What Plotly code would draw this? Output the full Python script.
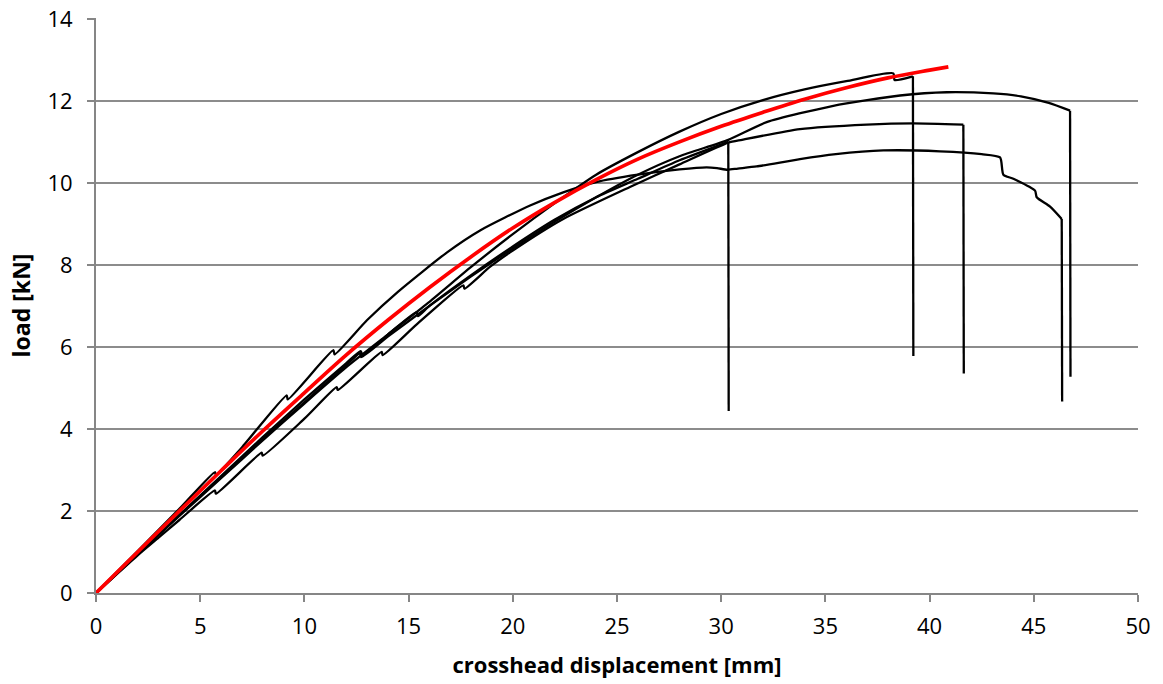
import plotly.graph_objects as go

# load-displacement curves (mm, kN)
red_x = [0, 2, 4, 6, 8, 10, 12, 14, 16, 18, 20, 22, 24, 26, 28, 30, 32, 34, 36, 38, 40, 40.9]
red_y = [0, 1.0, 2.0, 2.98, 3.95, 4.88, 5.8, 6.65, 7.45, 8.2, 8.9, 9.52, 10.08, 10.58, 11.0, 11.38,
         11.72, 12.04, 12.32, 12.56, 12.75, 12.83]

a_x = [0, 2, 4, 6, 8, 10, 12, 12.7, 12.8, 14, 16, 18, 20, 22, 24, 26, 28, 30, 32, 34, 36,
       38.26, 38.32, 39.14, 39.2, 39.22]
a_y = [0, 0.95, 1.9, 2.85, 3.8, 4.72, 5.6, 5.9, 5.8, 6.3, 7.1, 7.95, 8.75, 9.5, 10.2, 10.75,
       11.25, 11.68, 12.02, 12.28, 12.48, 12.67, 12.51, 12.59, 12.6, 5.78]

b_x = [0, 2, 4, 6, 8, 10, 12, 12.67, 12.72, 14, 16, 18, 20, 22, 24, 26, 28, 30.34, 32.18,
       35.38, 38.58, 40.82, 43.06, 44.38, 45.72, 46.74, 46.76]
b_y = [0, 0.95, 1.9, 2.82, 3.75, 4.65, 5.55, 5.85, 5.75, 6.25, 7.0, 7.72, 8.4, 9.05, 9.65,
       10.2, 10.65, 11.05, 11.48, 11.88, 12.13, 12.21, 12.18, 12.11, 11.95, 11.76, 5.27]

c_x = [0, 2, 3, 4, 5.71, 5.75, 7.95, 8.0, 10, 11.55, 11.6, 13.71, 13.75, 15.39, 17.63, 17.68,
       18.9, 20, 22.42, 25.62, 28, 30.34, 31, 33.78, 36.98, 39.22, 41.62, 41.64]
c_y = [0, 0.92, 1.35, 1.78, 2.5, 2.42, 3.42, 3.35, 4.25, 5.02, 4.95, 5.88, 5.8, 6.55, 7.5, 7.42,
       7.95, 8.35, 9.12, 9.9, 10.45, 10.98, 11.05, 11.31, 11.42, 11.45, 11.42, 5.35]

d_x = [0, 2, 4, 6, 8, 10, 12, 14, 15.39, 15.45, 16, 18, 20, 22, 24, 26, 28, 30.34, 30.36]
d_y = [0, 0.95, 1.88, 2.8, 3.72, 4.62, 5.5, 6.3, 6.85, 6.75, 7.0, 7.75, 8.45, 9.1, 9.65,
       10.1, 10.55, 11.0, 4.44]

e_x = [0, 2, 4, 5.71, 5.75, 7, 9.15, 9.2, 11.39, 11.45, 13, 14.5, 16.83, 18.43, 20.83, 22.42,
       24, 26, 28, 29.3, 29.8, 30.3, 30.8, 31.7, 33.78, 35.5, 37.78, 40.5, 42.5, 43.38, 43.54,
       44.02, 45.06, 45.14, 45.78, 46.34, 46.36]
e_y = [0, 1.02, 2.05, 2.95, 2.88, 3.55, 4.82, 4.72, 5.92, 5.82, 6.65, 7.35, 8.3, 8.84, 9.45,
       9.77, 10.02, 10.2, 10.33, 10.38, 10.36, 10.32, 10.35, 10.4, 10.58, 10.7, 10.79, 10.77,
       10.7, 10.62, 10.2, 10.1, 9.81, 9.65, 9.42, 9.12, 4.67]

x_ticks = [0, 5, 10, 15, 20, 25, 30, 35, 40, 45, 50]
y_ticks = [0, 2, 4, 6, 8, 10, 12, 14]

fig = go.Figure()
for xs, ys in [(a_x, a_y), (b_x, b_y), (c_x, c_y), (d_x, d_y), (e_x, e_y)]:
    # smooth test curve, then the straight drop at failure
    fig.add_trace(go.Scatter(x=xs[:-1], y=ys[:-1], mode='lines', showlegend=False,
                             line={'color': 'black', 'width': 2.3, 'shape': 'spline', 'smoothing': 0.6}))
    fig.add_trace(go.Scatter(x=xs[-2:], y=ys[-2:], mode='lines', showlegend=False,
                             line={'color': 'black', 'width': 2.3}))
fig.add_trace(go.Scatter(x=red_x, y=red_y, mode='lines', showlegend=False,
                         line={'color': '#ff0000', 'width': 3.7, 'shape': 'spline'}))

grey = '#868686'
fig.update_layout(
    width=1163, height=684,
    margin={'l': 96, 'r': 25, 't': 18, 'b': 91, 'autoexpand': False},
    paper_bgcolor='white', plot_bgcolor='white',
    font={'family': 'Open Sans', 'size': 22, 'color': 'black'},
    xaxis={
        'range': [0, 50], 'tickvals': x_ticks, 'showgrid': False, 'zeroline': False,
        'showline': True, 'linecolor': grey, 'linewidth': 2, 'automargin': False,
        'ticks': 'outside', 'ticklen': 7, 'tickcolor': grey, 'tickwidth': 2,
        'ticklabelstandoff': 6, 'ticklabeloverflow': 'allow',
        'title': {'text': '<b>crosshead displacement [mm]</b>', 'font': {'size': 22}, 'standoff': 18},
    },
    yaxis={
        'range': [0, 14.02], 'tickvals': y_ticks, 'showgrid': True, 'gridcolor': '#8c8c8c',
        'gridwidth': 2, 'zeroline': False, 'automargin': False,
        'showline': True, 'linecolor': grey, 'linewidth': 2,
        'ticks': 'outside', 'ticklen': 7, 'tickcolor': grey, 'tickwidth': 2,
        'ticklabelstandoff': 10, 'ticklabeloverflow': 'allow',
        'title': {'text': '<b>load [kN]</b>', 'font': {'size': 23}, 'standoff': 10},
    },
)

# drop the page's default body margin so the figure sits at the window corner
fig.write_html("out.html", config={'displayModeBar': False},
               post_script="document.body.style.margin = '0';")
